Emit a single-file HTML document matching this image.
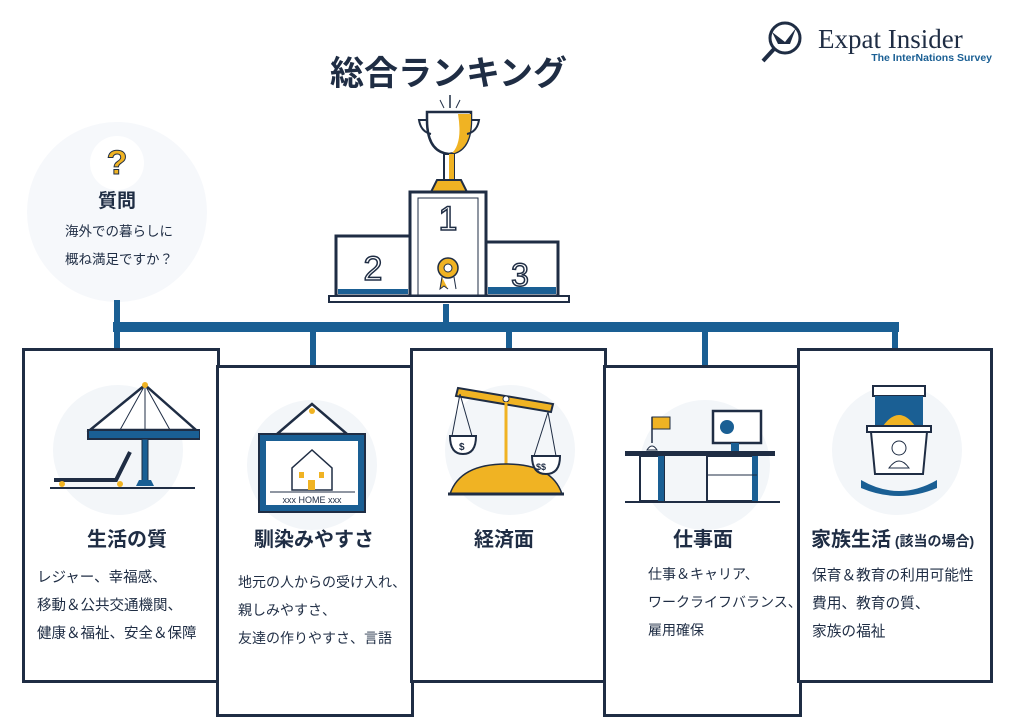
<!DOCTYPE html>
<html><head><meta charset="utf-8"><style>
body{margin:0;width:1026px;height:722px;background:#fff;position:relative;overflow:hidden;font-family:"Liberation Sans","Noto Sans CJK JP",sans-serif;color:#1f2d44}
.card{position:absolute;border:3px solid #1f2d44;background:#fff;box-sizing:border-box}
.t{position:absolute;font-weight:bold;font-size:20px;white-space:nowrap}
.d{position:absolute;font-size:14px;line-height:28px;white-space:nowrap}
.bg{position:absolute;border-radius:50%;background:#f3f6f9}
</style></head><body>
<div style="position:absolute;left:330px;top:46px;font-size:34px;font-weight:bold;letter-spacing:0px">総合ランキング</div>
<svg style="position:absolute;left:760px;top:14px" width="240" height="52"><circle cx="25" cy="24" r="15" fill="none" stroke="#1f2d44" stroke-width="3"/><line x1="14" y1="35" x2="3" y2="47" stroke="#1f2d44" stroke-width="4"/><path d="M12 18 L25 28 L36 14 L30 30 L18 30Z" fill="#1f2d44"/>
<text x="58" y="34" font-family="Liberation Serif" font-size="27" fill="#1f2d44">Expat Insider</text>
<text x="232" y="47" text-anchor="end" font-size="10.5" font-weight="bold" fill="#1a5f94" font-family="Liberation Sans">The InterNations Survey</text></svg>
<div class="bg" style="left:27px;top:122px;width:180px;height:180px;background:#f6f8fb"></div>
<div style="position:absolute;left:90px;top:136px;width:54px;height:54px;border-radius:50%;background:#fff;text-align:center;font-size:34px;font-weight:bold;color:#f0b323;line-height:54px;-webkit-text-stroke:1px #1f2d44">?</div>
<div class="t" style="left:98px;top:186px;font-size:19px">質問</div>
<div class="d" style="left:65px;top:218px;width:104px;text-align:center;font-size:13.5px">海外での暮らしに<br>概ね満足ですか？</div>
<svg style="position:absolute;left:310px;top:90px" width="270" height="215">
<line x1="140" y1="5" x2="140" y2="18" stroke="#1f2d44" stroke-width="1.5"/><line x1="130" y1="10" x2="134" y2="18" stroke="#1f2d44"/><line x1="150" y1="10" x2="146" y2="18" stroke="#1f2d44"/>
<path d="M117 22 h44 v8 q0 32 -22 34 q-22 -2 -22 -34z" fill="#fff" stroke="#1f2d44" stroke-width="2.5"/><path d="M148 24 h13 v6 q0 30 -20 34 q12 -10 7-40z" fill="#f0b323"/>
<path d="M117 30 h-8 q2 12 12 14 M161 30 h8 q-2 12 -12 14" fill="none" stroke="#1f2d44" stroke-width="2"/>
<rect x="134" y="64" width="10" height="26" fill="#fff" stroke="#1f2d44" stroke-width="2"/><rect x="139" y="64" width="5" height="26" fill="#f0b323"/>
<path d="M127 90 h24 l6 12 h-36z" fill="#f0b323" stroke="#1f2d44" stroke-width="2"/>
<rect x="100" y="102" width="76" height="104" fill="#fff" stroke="#1f2d44" stroke-width="3"/><rect x="108" y="108" width="60" height="98" fill="none" stroke="#1f2d44" stroke-width="1"/>
<text x="138" y="140" text-anchor="middle" font-size="34" fill="#fff" stroke="#1f2d44" stroke-width="1.5">1</text>
<circle cx="138" cy="178" r="10" fill="#f0b323" stroke="#1f2d44" stroke-width="1.5"/><circle cx="138" cy="178" r="4" fill="#fff" stroke="#1f2d44"/><path d="M132 187 l-2 12 l4 -3 l4 3 M144 187 l2 12" fill="#f0b323" stroke="#1f2d44"/>
<rect x="26" y="146" width="74" height="60" fill="#fff" stroke="#1f2d44" stroke-width="3"/><rect x="28" y="199" width="70" height="5" fill="#1a5f94"/>
<text x="63" y="190" text-anchor="middle" font-size="34" fill="#fff" stroke="#1f2d44" stroke-width="1.5">2</text>
<rect x="176" y="152" width="72" height="54" fill="#fff" stroke="#1f2d44" stroke-width="3"/><rect x="178" y="197" width="68" height="7" fill="#1a5f94"/>
<text x="210" y="196" text-anchor="middle" font-size="32" fill="#fff" stroke="#1f2d44" stroke-width="1.5">3</text>
<rect x="19" y="206" width="240" height="6" fill="#fff" stroke="#1f2d44" stroke-width="2"/>
</svg>
<div style="position:absolute;left:113px;top:322px;width:786px;height:10px;background:#1a5f94"></div>
<div style="position:absolute;left:114px;top:300px;width:6px;height:50px;background:#1a5f94"></div>
<div style="position:absolute;left:443px;top:304px;width:6px;height:20px;background:#1a5f94"></div>
<div style="position:absolute;left:310px;top:330px;width:6px;height:37px;background:#1a5f94"></div>
<div style="position:absolute;left:506px;top:330px;width:6px;height:20px;background:#1a5f94"></div>
<div style="position:absolute;left:702px;top:330px;width:6px;height:37px;background:#1a5f94"></div>
<div style="position:absolute;left:892px;top:330px;width:6px;height:20px;background:#1a5f94"></div>
<div class="card" style="left:22px;top:348px;width:198px;height:335px"></div>
<div class="card" style="left:216px;top:365px;width:198px;height:352px"></div>
<div class="card" style="left:410px;top:348px;width:197px;height:335px"></div>
<div class="card" style="left:603px;top:365px;width:199px;height:352px"></div>
<div class="card" style="left:797px;top:348px;width:196px;height:335px"></div>
<div class="bg" style="left:53px;top:385px;width:130px;height:130px"></div>
<div class="bg" style="left:247px;top:400px;width:130px;height:130px"></div>
<div class="bg" style="left:445px;top:385px;width:130px;height:130px"></div>
<div class="bg" style="left:640px;top:400px;width:130px;height:130px"></div>
<div class="bg" style="left:832px;top:385px;width:130px;height:130px"></div>
<svg style="position:absolute;left:50px;top:380px" width="150" height="120"><path d="M95 5 L40 50 h106 z" fill="#fff" stroke="#1f2d44" stroke-width="2.5"/><path d="M95 5 L70 50 M95 5 L120 50 M95 5 V50" stroke="#1f2d44"/><rect x="38" y="50" width="112" height="9" fill="#1a5f94" stroke="#1f2d44" stroke-width="2"/><circle cx="95" cy="5" r="3" fill="#f0b323"/><rect x="92" y="59" width="6" height="46" fill="#1a5f94" stroke="#1f2d44"/><path d="M86 106 h18 l-3 -6 h-12z" fill="#1a5f94"/><line x1="0" y1="108" x2="145" y2="108" stroke="#1f2d44" stroke-width="2"/><path d="M4 100 h62 l14 -28" fill="none" stroke="#1f2d44" stroke-width="4"/><circle cx="12" cy="104" r="3" fill="#f0b323"/><circle cx="70" cy="104" r="3" fill="#f0b323"/></svg>
<svg style="position:absolute;left:255px;top:402px" width="115" height="112"><path d="M57 2 L22 32 h70z" fill="#fff" stroke="#1f2d44" stroke-width="2.5"/><circle cx="57" cy="9" r="3" fill="#f0b323"/><rect x="4" y="32" width="106" height="78" fill="#1a5f94" stroke="#1f2d44" stroke-width="2"/><rect x="11" y="39" width="92" height="64" fill="#fff"/><path d="M57 48 l-20 18 v22 h40 v-22z" fill="#fff" stroke="#1f2d44" stroke-width="1.5"/><rect x="44" y="70" width="5" height="6" fill="#f0b323"/><rect x="64" y="70" width="5" height="6" fill="#f0b323"/><rect x="53" y="78" width="7" height="10" fill="#f0b323"/><line x1="15" y1="90" x2="100" y2="90" stroke="#1f2d44"/><text x="57" y="101" text-anchor="middle" font-size="9" fill="#1f2d44">xxx HOME xxx</text></svg>
<svg style="position:absolute;left:448px;top:384px" width="120" height="115"><path d="M10 4 L105 20 l-2 8 L8 12z" fill="#f0b323" stroke="#1f2d44" stroke-width="2"/><circle cx="58" cy="15" r="3" fill="#fff" stroke="#1f2d44"/><line x1="58" y1="18" x2="58" y2="95" stroke="#f0b323" stroke-width="3"/><path d="M2 110 q10 -30 56 -30 q46 0 56 30z" fill="#f0b323" stroke="#1f2d44" stroke-width="1.5"/><line x1="0" y1="110" x2="116" y2="110" stroke="#1f2d44" stroke-width="3"/><path d="M12 10 L4 52 M12 10 L24 52 M100 28 L86 72 M100 28 L108 72" stroke="#1f2d44"/><path d="M2 52 h26 q0 18 -13 18 q-13 0 -13-18z" fill="#fff" stroke="#1f2d44" stroke-width="2"/><path d="M84 72 h28 q0 18 -14 18 q-14 0 -14-18z" fill="#fff" stroke="#1f2d44" stroke-width="2"/><text x="11" y="66" font-size="10" font-weight="bold" fill="#1f2d44">$</text><text x="88" y="86" font-size="9" font-weight="bold" fill="#1f2d44">$$</text></svg>
<svg style="position:absolute;left:625px;top:405px" width="155" height="100"><rect x="27" y="12" width="18" height="12" fill="#f0b323" stroke="#1f2d44"/><line x1="27" y1="12" x2="27" y2="38" stroke="#1f2d44" stroke-width="1.5"/><path d="M22 45 q5 -8 10 0z" fill="#fff" stroke="#1f2d44"/><rect x="88" y="6" width="48" height="32" fill="#fff" stroke="#1f2d44" stroke-width="2.5"/><circle cx="102" cy="22" r="7" fill="#1a5f94"/><rect x="106" y="38" width="8" height="10" fill="#1a5f94"/><rect x="0" y="46" width="150" height="5" fill="#1f2d44"/><rect x="15" y="51" width="24" height="45" fill="#fff" stroke="#1f2d44" stroke-width="2"/><rect x="33" y="51" width="6" height="45" fill="#1a5f94"/><rect x="82" y="51" width="50" height="45" fill="#fff" stroke="#1f2d44" stroke-width="2"/><rect x="127" y="51" width="6" height="45" fill="#1a5f94"/><line x1="82" y1="70" x2="132" y2="70" stroke="#1f2d44"/><line x1="0" y1="97" x2="155" y2="97" stroke="#1f2d44" stroke-width="2"/></svg>
<svg style="position:absolute;left:855px;top:384px" width="90" height="115"><rect x="18" y="2" width="52" height="10" fill="#fff" stroke="#1f2d44" stroke-width="2"/><rect x="20" y="12" width="48" height="30" fill="#1a5f94"/><path d="M28 42 q16 -22 32 0z" fill="#f0b323"/><rect x="12" y="42" width="64" height="6" fill="#fff" stroke="#1f2d44" stroke-width="2"/><path d="M16 48 h56 l-4 42 h-48z" fill="#fff" stroke="#1f2d44" stroke-width="2"/><circle cx="44" cy="64" r="7" fill="#fff" stroke="#1f2d44"/><path d="M34 84 q10 -14 20 0z" fill="#fff" stroke="#1f2d44"/><path d="M6 96 q38 22 76 0 v8 q-38 16 -76 0z" fill="#1a5f94"/></svg>
<div class="t" style="left:87px;top:523px">生活の質</div>
<div class="d" style="left:37px;top:564px;font-size:14.5px">レジャー、幸福感、<br>移動＆公共交通機関、<br>健康＆福祉、安全＆保障</div>
<div class="t" style="left:254px;top:523px">馴染みやすさ</div>
<div class="d" style="left:238px;top:568px">地元の人からの受け入れ、<br>親しみやすさ、<br>友達の作りやすさ、言語</div>
<div class="t" style="left:474px;top:523px">経済面</div>
<div class="t" style="left:673px;top:523px">仕事面</div>
<div class="d" style="left:648px;top:560px">仕事＆キャリア、<br>ワークライフバランス、<br>雇用確保</div>
<div class="t" style="left:811px;top:523px">家族生活<span style="font-size:14px"> (該当の場合)</span></div>
<div class="d" style="left:812px;top:562px;font-size:14.7px">保育＆教育の利用可能性<br>費用、教育の質、<br>家族の福祉</div>
</body></html>
